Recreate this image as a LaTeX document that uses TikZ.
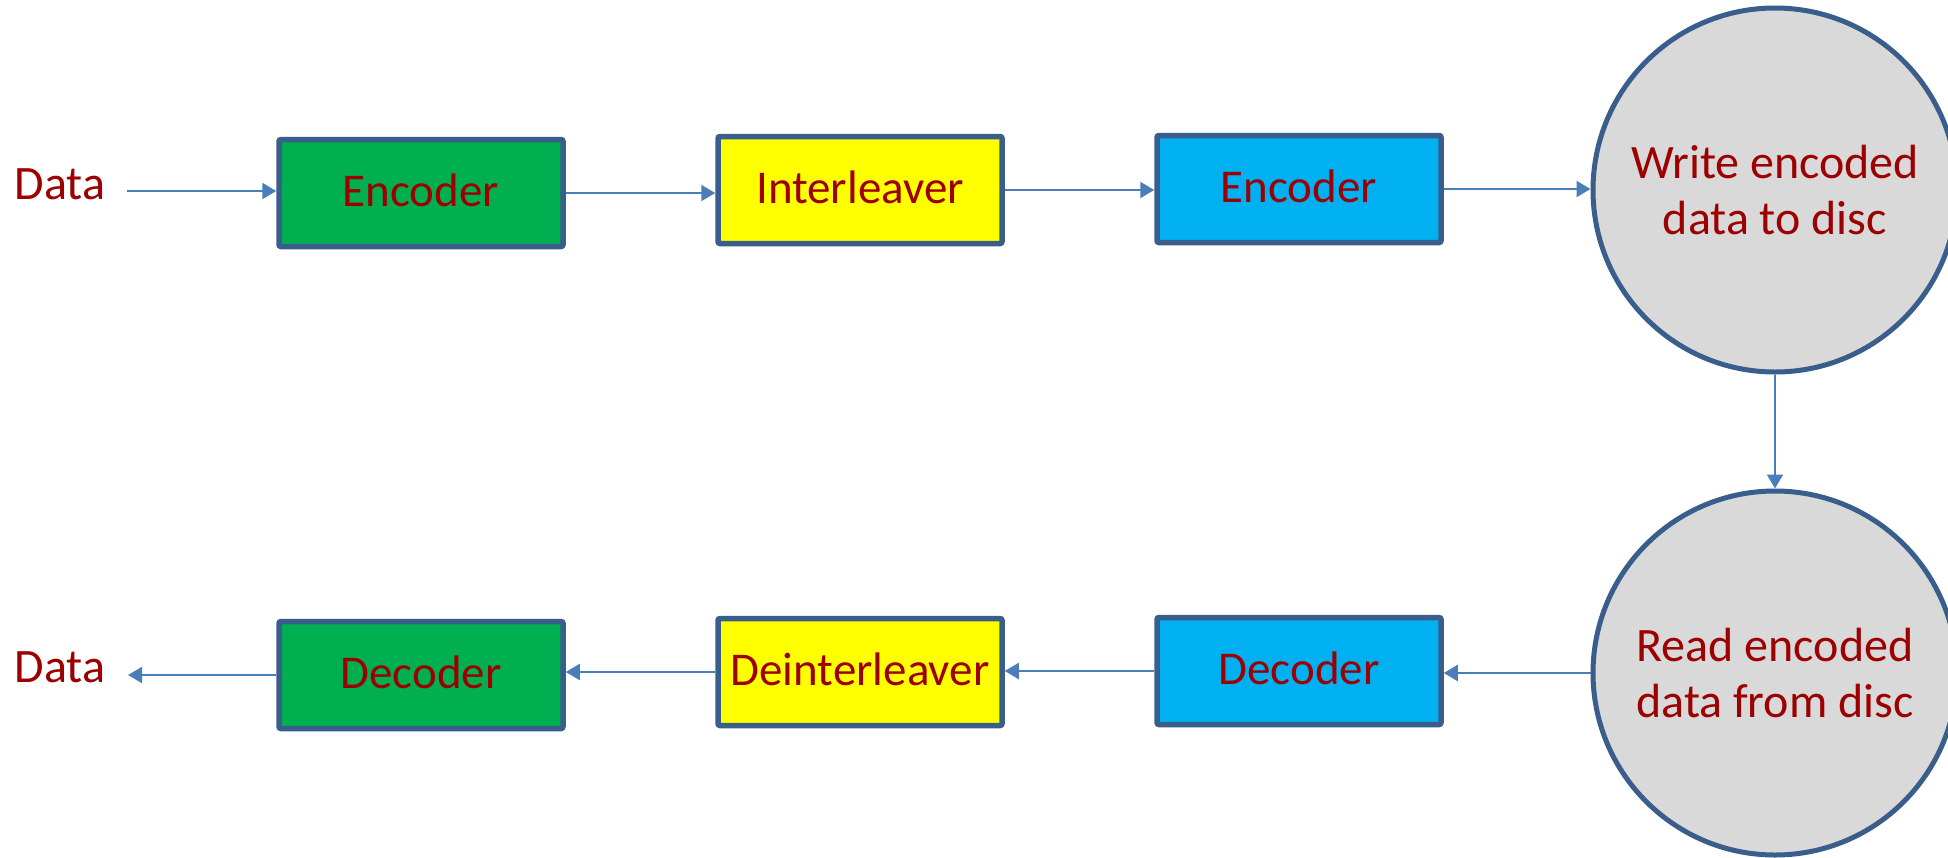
\documentclass[tikz,border=0pt]{standalone}
\usepackage{fontspec}
\setmainfont{Carlito}
\usetikzlibrary{arrows.meta}
\definecolor{edge}{HTML}{3A5E8C}
\definecolor{wire}{HTML}{4A7EBB}
\definecolor{ink}{HTML}{9C0000}
\definecolor{grn}{HTML}{00B050}
\definecolor{ylw}{HTML}{FFFF00}
\definecolor{cyn}{HTML}{00B0F0}
\definecolor{disc}{HTML}{D9D9D9}
\tikzset{
  block/.style={draw=edge, line width=5.5pt, rounded corners=2pt,
    minimum width=284pt, minimum height=107pt, inner sep=0pt,
    text height=34pt, text depth=8pt,
    text=ink, font=\fontsize{47}{55}\selectfont},
  discnode/.style={circle, draw=edge, line width=5pt, fill=disc,
    minimum size=364pt, inner sep=0pt, align=center,
    text=ink, font=\fontsize{48}{56}\selectfont},
  label/.style={text=ink, font=\fontsize{48}{55}\selectfont, inner sep=0pt},
  link/.style={draw=wire, line width=2pt,
    -{Triangle[length=14pt, width=16pt]}}
}
\begin{document}
\begin{tikzpicture}[x=1pt, y=-1pt]
  \clip (0,0) rectangle (1948,857);
  \fill[white] (0,0) rectangle (1948,857);

  % write path
  \node[label] (datain) at (60,184) {Data};
  \coordinate (src) at (127,191);
  \node[block, fill=grn] (enc1) at (421,193) {Encoder};
  \node[block, fill=ylw] (ilv)  at (860,190) {Interleaver};
  \node[block, fill=cyn] (enc2) at (1299,189) {Encoder};
  \node[discnode] (wr) at (1775,190) {Write encoded\\data to disc};

  % read path
  \node[discnode] (rd) at (1775,673) {Read encoded\\data from disc};
  \node[block, fill=cyn] (dec2) at (1299,671) {Decoder};
  \node[block, fill=ylw] (dilv) at (860,672) {Deinterleaver};
  \node[block, fill=grn] (dec1) at (421,675) {Decoder};
  \node[label] (dataout) at (60,667) {Data};
  \coordinate (sink) at (128,675);

  % connectors
  \draw[link] (src) -- (src -| enc1.west);
  \draw[link] (enc1.east) -- (enc1.east -| ilv.west);
  \draw[link] (ilv.east) -- (ilv.east -| enc2.west);
  \draw[link] (enc2.east) -- (enc2.east -| wr.west);
  \draw[link] (wr.south) -- (rd.north);
  \draw[link] (rd.west) -- (rd.west -| dec2.east);
  \draw[link] (dec2.west) -- (dec2.west -| dilv.east);
  \draw[link] (dilv.west) -- (dilv.west -| dec1.east);
  \draw[link] (dec1.west) -- (sink);
\end{tikzpicture}
\end{document}
